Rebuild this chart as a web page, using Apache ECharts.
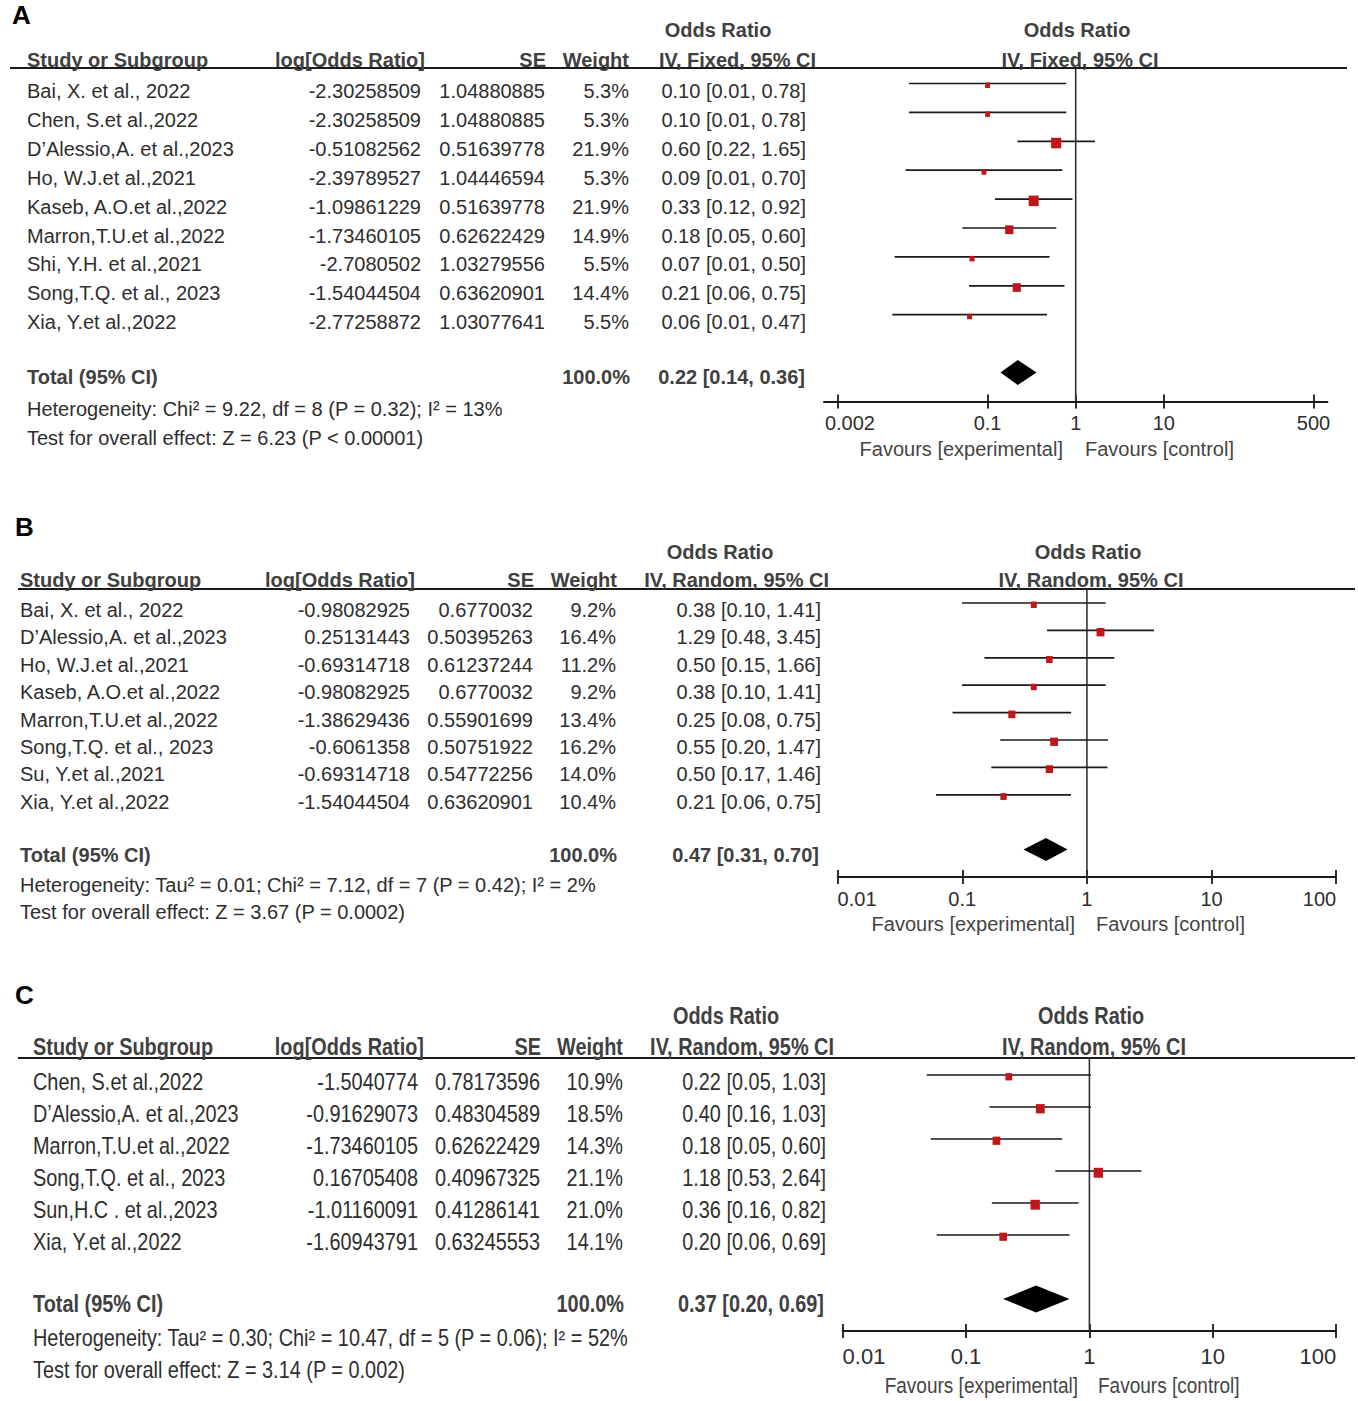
<!DOCTYPE html>
<html><head><meta charset="utf-8">
<script src="https://cdn.jsdelivr.net/npm/echarts@6.0.0/dist/echarts.min.js"></script>
<style>html,body{margin:0;padding:0;background:#fff}#c{width:1358px;height:1401px}</style>
</head><body><div id="c"></div>
<script>
// ---------- Panel A data ----------
const studiesA = ["Bai, X. et al., 2022","Chen, S.et al.,2022","D\u2019Alessio,A. et al.,2023","Ho, W.J.et al.,2021","Kaseb, A.O.et al.,2022","Marron,T.U.et al.,2022","Shi, Y.H. et al.,2021","Song,T.Q. et al., 2023","Xia, Y.et al.,2022"];
const logOrA = [-2.30258509,-2.30258509,-0.51082562,-2.39789527,-1.09861229,-1.73460105,-2.7080502,-1.54044504,-2.77258872];
const seA = [1.04880885,1.04880885,0.51639778,1.04446594,0.51639778,0.62622429,1.03279556,0.63620901,1.03077641];
const weightA = [5.3,5.3,21.9,5.3,21.9,14.9,5.5,14.4,5.5];
const orA = [0.10,0.10,0.60,0.09,0.33,0.18,0.07,0.21,0.06];
const lowA = [0.01,0.01,0.22,0.01,0.12,0.05,0.01,0.06,0.01];
const highA = [0.78,0.78,1.65,0.70,0.92,0.60,0.50,0.75,0.47];
const totalA = [0.22,0.14,0.36];
const hetA = "Heterogeneity: Chi\u00b2 = 9.22, df = 8 (P = 0.32); I\u00b2 = 13%";
const testA = "Test for overall effect: Z = 6.23 (P < 0.00001)";
const methodA = "IV, Fixed, 95% CI";
const tickValsA = [0.002,0.1,1,10,500];
const tickLabelsA = ["0.002","0.1","1","10","500"];

// ---------- Panel B data ----------
const studiesB = ["Bai, X. et al., 2022","D\u2019Alessio,A. et al.,2023","Ho, W.J.et al.,2021","Kaseb, A.O.et al.,2022","Marron,T.U.et al.,2022","Song,T.Q. et al., 2023","Su, Y.et al.,2021","Xia, Y.et al.,2022"];
const logOrB = [-0.98082925,0.25131443,-0.69314718,-0.98082925,-1.38629436,-0.6061358,-0.69314718,-1.54044504];
const seB = [0.6770032,0.50395263,0.61237244,0.6770032,0.55901699,0.50751922,0.54772256,0.63620901];
const weightB = [9.2,16.4,11.2,9.2,13.4,16.2,14.0,10.4];
const orB = [0.38,1.29,0.50,0.38,0.25,0.55,0.50,0.21];
const lowB = [0.10,0.48,0.15,0.10,0.08,0.20,0.17,0.06];
const highB = [1.41,3.45,1.66,1.41,0.75,1.47,1.46,0.75];
const totalB = [0.47,0.31,0.70];
const hetB = "Heterogeneity: Tau\u00b2 = 0.01; Chi\u00b2 = 7.12, df = 7 (P = 0.42); I\u00b2 = 2%";
const testB = "Test for overall effect: Z = 3.67 (P = 0.0002)";
const methodB = "IV, Random, 95% CI";
const tickValsB = [0.01,0.1,1,10,100];
const tickLabelsB = ["0.01","0.1","1","10","100"];

// ---------- Panel C data ----------
const studiesC = ["Chen, S.et al.,2022","D\u2019Alessio,A. et al.,2023","Marron,T.U.et al.,2022","Song,T.Q. et al., 2023","Sun,H.C . et al.,2023","Xia, Y.et al.,2022"];
const logOrC = [-1.5040774,-0.91629073,-1.73460105,0.16705408,-1.01160091,-1.60943791];
const seC = [0.78173596,0.48304589,0.62622429,0.40967325,0.41286141,0.63245553];
const weightC = [10.9,18.5,14.3,21.1,21.0,14.1];
const orC = [0.22,0.40,0.18,1.18,0.36,0.20];
const lowC = [0.05,0.16,0.05,0.53,0.16,0.06];
const highC = [1.03,1.03,0.60,2.64,0.82,0.69];
const totalC = [0.37,0.20,0.69];
const hetC = "Heterogeneity: Tau\u00b2 = 0.30; Chi\u00b2 = 10.47, df = 5 (P = 0.06); I\u00b2 = 52%";
const testC = "Test for overall effect: Z = 3.14 (P = 0.002)";
const methodC = "IV, Random, 95% CI";
const tickValsC = [0.01,0.1,1,10,100];
const tickLabelsC = ["0.01","0.1","1","10","100"];

// ---------- layout / styles ----------
const FAM = '"Liberation Sans", Arial, sans-serif';
const TXT = '#2e2e2e', HEAD = '#404040', LINE = '#1a1a1a', RED = '#c0151b';

const panels = [
 {letter:'A', names:studiesA, lor:logOrA, se:seA, wt:weightA, or:orA, lo:lowA, hi:highA, total:totalA, het:hetA, test:testA, method:methodA, ticks:tickValsA, tickLabels:tickLabelsA,
  L:{top:54.6, unit:28.9, maxR:12, totalR:11, left:823.9, width:503.6, xmin:-2.858, xmax:2.858, sqK:2.15, diaH:12.5,
     letterPos:[12,15], orHeadY:30, colHeadY:60, rule:[10,1347,68], rowOff:7.5, totalY:377, hetY:409, testY:438, favY:449,
     col:{name:27, lor:421, se:545, wt:629, or:806}, head:{lor:425, se:546, wt:629, or:816, orTitle:718, plotTitle:1077, plotMethod:1080},
     tot:{wt:630, or:805}, fav:[1063,1085], font:20, sx:1, labelSize:20, margin:12, edgeAlign:false}},
 {letter:'B', names:studiesB, lor:logOrB, se:seB, wt:weightB, or:orB, lo:lowB, hi:highB, total:totalB, het:hetB, test:testB, method:methodB, ticks:tickValsB, tickLabels:tickLabelsB,
  L:{top:575.6, unit:27.4, maxR:11, totalR:10, left:837.6, width:498.6, xmin:-2, xmax:2, sqK:1.95, diaH:11.5,
     letterPos:[15,527], orHeadY:552, colHeadY:580, rule:[18,1355,589], rowOff:7, totalY:855, hetY:885, testY:912, favY:924,
     col:{name:20, lor:410, se:533, wt:616, or:821}, head:{lor:415, se:534, wt:617, or:829, orTitle:720, plotTitle:1088, plotMethod:1091},
     tot:{wt:617, or:819}, fav:[1075,1096], font:20, sx:1, labelSize:20, margin:12, edgeAlign:true}},
 {letter:'C', names:studiesC, lor:logOrC, se:seC, wt:weightC, or:orC, lo:lowC, hi:highC, total:totalC, het:hetC, test:testC, method:methodC, ticks:tickValsC, tickLabels:tickLabelsC,
  L:{top:1043, unit:32, maxR:9, totalR:8, left:842.6, width:493.6, xmin:-2, xmax:2, sqK:2.05, diaH:13.5,
     letterPos:[15,995], orHeadY:1017, colHeadY:1048, rule:[18,1355,1058], rowOff:8, totalY:1305, hetY:1339, testY:1371, favY:1385,
     col:{name:33, lor:418, se:540, wt:623, or:826}, head:{lor:424, se:541, wt:623, or:834, orTitle:726, plotTitle:1091, plotMethod:1094},
     tot:{wt:624, or:824}, fav:[1078,1098], font:23, sx:0.865, labelSize:22, margin:14, edgeAlign:true}}
];

const chart = echarts.init(document.getElementById('c'), null, {renderer:'svg', width:1358, height:1401});
const grid=[], xAxis=[], yAxis=[], series=[], graphic=[];
const l10 = v => Math.log10(v);
const fmt2 = v => v.toFixed(2);

function txt(x, y, s, o) {
  o = o || {};
  const size = o.size || 20;
  graphic.push({type:'text', x:x, y:y, scaleX:o.sx || 1, silent:true,
    style:{text:s, fill:o.color || TXT, font:(o.bold ? 'bold ' : '') + size + 'px ' + FAM,
      align:o.align || 'left', verticalAlign:'middle'}});
}

panels.forEach((p, i) => {
  const L = p.L;
  const height = L.unit * L.maxR;
  grid.push({left:L.left, top:L.top, width:L.width, height:height, containLabel:false});
  const tv = p.ticks.map(l10);
  const labFmt = v => { const k = tv.findIndex(t => Math.abs(t - v) < 1e-6); return k < 0 ? '' : p.tickLabels[k]; };
  const tickStyle = {color:LINE, width:1.8};
  xAxis.push({gridIndex:i, type:'value', min:L.xmin, max:L.xmax, position:'bottom',
    axisLine:{show:true, onZero:false, lineStyle:{color:LINE, width:1.8}},
    splitLine:{show:false},
    axisTick:{show:true, customValues:tv, length:7, inside:false, lineStyle:tickStyle},
    axisLabel:{show:true, customValues:tv, margin:L.margin, color:TXT, fontSize:L.labelSize, fontFamily:FAM,
      alignMinLabel: L.edgeAlign ? 'left' : null, alignMaxLabel: L.edgeAlign ? 'right' : null,
      formatter: v => { const s = labFmt(v); return (!L.edgeAlign && s === p.tickLabels[0]) ? '{m|' + s + '}' : s; },
      rich:{m:{fontSize:L.labelSize, fontFamily:FAM, color:TXT, padding:[0,0,0,24]}}}});
  xAxis.push({gridIndex:i, type:'value', min:L.xmin, max:L.xmax, position:'bottom',
    axisLine:{show:false, onZero:false}, splitLine:{show:false}, axisLabel:{show:false},
    axisTick:{show:true, customValues:tv, length:7, inside:true, lineStyle:tickStyle}});
  yAxis.push({gridIndex:i, type:'value', min:0, max:L.maxR, inverse:true, show:false});

  // vertical line of no effect (OR = 1)
  series.push({type:'line', xAxisIndex:2*i, yAxisIndex:i, data:[[l10(1),0.5],[l10(1),L.maxR]], symbol:'none',
    silent:true, lineStyle:{color:'#333', width:1.6}, z:1});

  // study CI lines + weighted squares
  const rows = p.names.map((n, k) => [p.lor[k]/Math.LN10, k+1, (p.lor[k]-1.96*p.se[k])/Math.LN10, (p.lor[k]+1.96*p.se[k])/Math.LN10, p.wt[k]]);
  series.push({type:'custom', xAxisIndex:2*i, yAxisIndex:i, data:rows, silent:true, z:3,
    renderItem:(params, api) => {
      const c = api.coord([api.value(0), api.value(1)]);
      const a = api.coord([api.value(2), api.value(1)]);
      const b = api.coord([api.value(3), api.value(1)]);
      const s = L.sqK * Math.sqrt(api.value(4));
      return {type:'group', children:[
        {type:'line', shape:{x1:a[0], y1:a[1], x2:b[0], y2:b[1]}, style:{stroke:LINE, lineWidth:1.7}},
        {type:'rect', shape:{x:c[0]-s/2, y:c[1]-s/2+1.5, width:s, height:s+0.5}, style:{fill:RED}}
      ]};
    }});

  // pooled diamond
  series.push({type:'custom', xAxisIndex:2*i, yAxisIndex:i, silent:true, z:3,
    data:[[l10(p.total[1]), l10(p.total[0]), l10(p.total[2]), L.totalR]],
    renderItem:(params, api) => {
      const r = api.value(3);
      const a = api.coord([api.value(0), r]), m = api.coord([api.value(1), r]), b = api.coord([api.value(2), r]);
      return {type:'polygon', shape:{points:[[a[0],a[1]],[m[0],m[1]-L.diaH],[b[0],b[1]],[m[0],m[1]+L.diaH]]}, style:{fill:'#000'}};
    }});

  // header rule
  graphic.push({type:'line', silent:true, shape:{x1:L.rule[0], y1:L.rule[2], x2:L.rule[1], y2:L.rule[2]}, style:{stroke:LINE, lineWidth:2}});

  const F = L.font, sx = L.sx;
  txt(L.letterPos[0], L.letterPos[1], p.letter, {bold:true, size:26, color:'#000'});
  txt(L.head.orTitle, L.orHeadY, 'Odds Ratio', {bold:true, size:F, sx, align:'center', color:HEAD});
  txt(L.head.plotTitle, L.orHeadY, 'Odds Ratio', {bold:true, size:F, sx, align:'center', color:HEAD});
  txt(L.col.name, L.colHeadY, 'Study or Subgroup', {bold:true, size:F, sx, color:HEAD});
  txt(L.head.lor, L.colHeadY, 'log[Odds Ratio]', {bold:true, size:F, sx, align:'right', color:HEAD});
  txt(L.head.se, L.colHeadY, 'SE', {bold:true, size:F, sx, align:'right', color:HEAD});
  txt(L.head.wt, L.colHeadY, 'Weight', {bold:true, size:F, sx, align:'right', color:HEAD});
  txt(L.head.or, L.colHeadY, p.method, {bold:true, size:F, sx, align:'right', color:HEAD});
  txt(L.head.plotMethod, L.colHeadY, p.method, {bold:true, size:F, sx, align:'center', color:HEAD});

  p.names.forEach((n, k) => {
    const y = L.top + (k+1)*L.unit + L.rowOff;
    txt(L.col.name, y, n, {size:F, sx});
    txt(L.col.lor, y, String(p.lor[k]), {size:F, sx, align:'right'});
    txt(L.col.se, y, String(p.se[k]), {size:F, sx, align:'right'});
    txt(L.col.wt, y, p.wt[k].toFixed(1) + '%', {size:F, sx, align:'right'});
    txt(L.col.or, y, fmt2(p.or[k]) + ' [' + fmt2(p.lo[k]) + ', ' + fmt2(p.hi[k]) + ']', {size:F, sx, align:'right'});
  });
  txt(L.col.name, L.totalY, 'Total (95% CI)', {bold:true, size:F, sx, color:HEAD});
  txt(L.tot.wt, L.totalY, '100.0%', {bold:true, size:F, sx, align:'right', color:HEAD});
  txt(L.tot.or, L.totalY, fmt2(p.total[0]) + ' [' + fmt2(p.total[1]) + ', ' + fmt2(p.total[2]) + ']', {bold:true, size:F, sx, align:'right', color:HEAD});
  txt(L.col.name, L.hetY, p.het, {size:F, sx});
  txt(L.col.name, L.testY, p.test, {size:F, sx});
  txt(L.fav[0], L.favY, 'Favours [experimental]', {size:L.labelSize, sx, align:'right', color:'#444'});
  txt(L.fav[1], L.favY, 'Favours [control]', {size:L.labelSize, sx, color:'#444'});
});

chart.setOption({animation:false, backgroundColor:'#fff', grid, xAxis, yAxis, series, graphic});
</script></body></html>
